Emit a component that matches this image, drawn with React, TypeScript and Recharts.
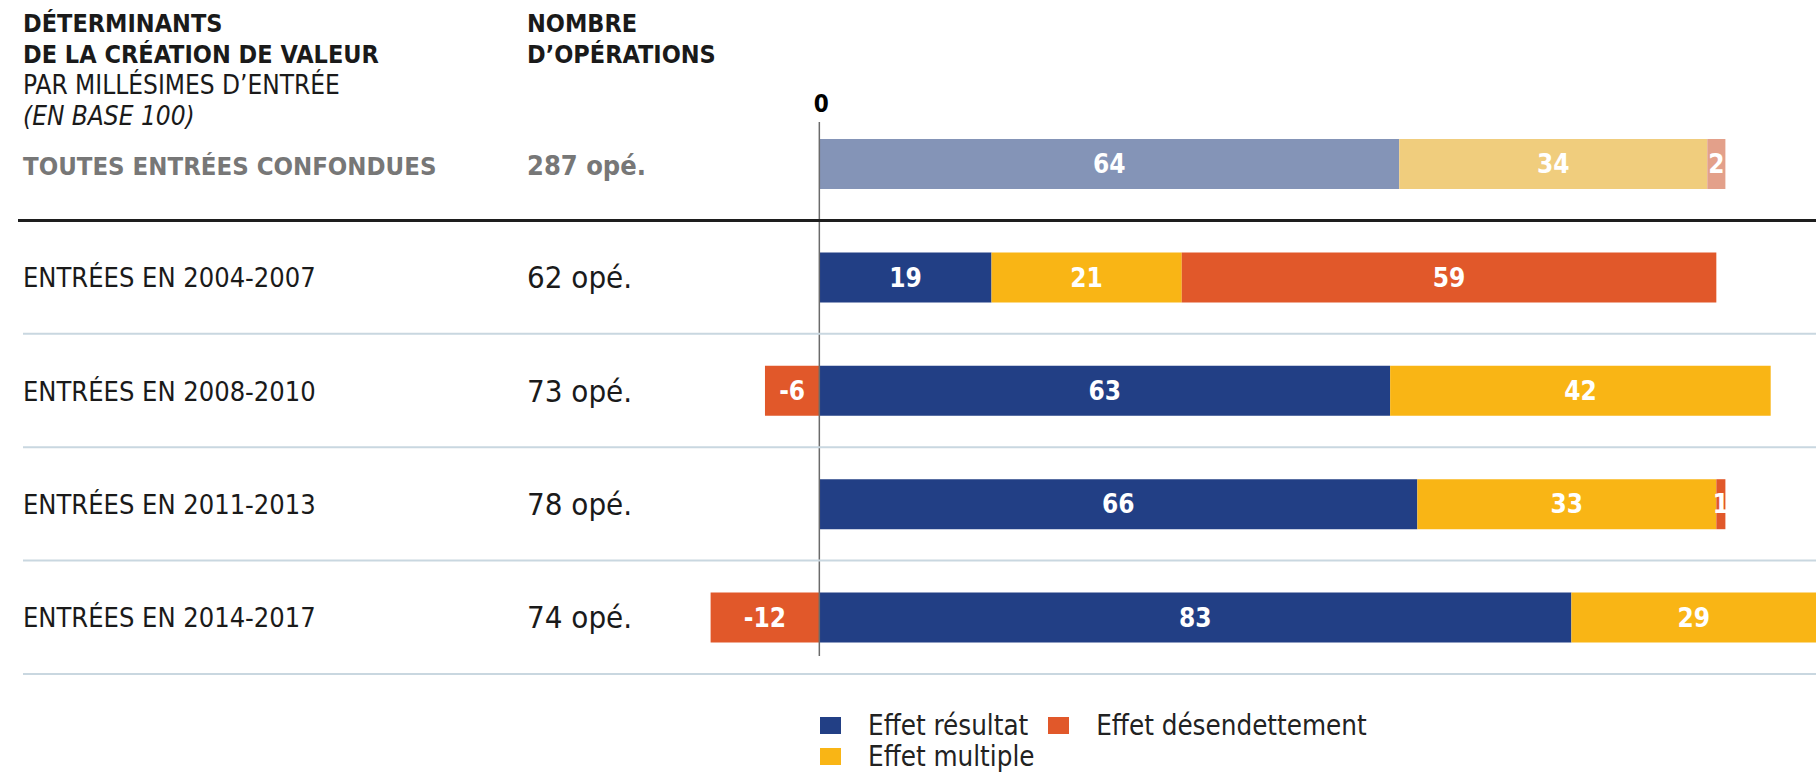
import React from "react";
import { Bar, BarChart, Cell, LabelList, Legend, ReferenceLine, XAxis, YAxis } from "recharts";

const categories = [
  "TOUTES ENTRÉES CONFONDUES",
  "ENTRÉES EN 2004-2007",
  "ENTRÉES EN 2008-2010",
  "ENTRÉES EN 2011-2013",
  "ENTRÉES EN 2014-2017",
];
const operations = ["287 opé.", "62 opé.", "73 opé.", "78 opé.", "74 opé."];
const effetResultat = [64, 19, 63, 66, 83];
const effetMultiple = [34, 21, 42, 33, 29];
const effetDesendettement = [2, 59, -6, 1, -12];
const xTicks = [0];

const data = categories.map((category, i) => ({
  category,
  resultat: effetResultat[i],
  multiple: effetMultiple[i],
  desendettement: effetDesendettement[i],
}));

const FONT = "'Liberation Sans Narrow', 'DejaVu Sans Condensed', sans-serif";
const W = 1816;
const H = 773;
const MARGIN = { top: 77, right: 0, bottom: 99, left: 21 };
const X_AXIS_H = 30;
const BAND = (H - MARGIN.top - MARGIN.bottom - X_AXIS_H) / categories.length;

const COLORS = {
  resultat: { main: "#223f85", light: "#8494b7" },
  multiple: { main: "#f9b515", light: "#f0cd7d" },
  desendettement: { main: "#e1582a", light: "#e3a08a" },
};

const SERIES = [
  { key: "resultat", name: "Effet résultat" },
  { key: "multiple", name: "Effet multiple" },
  { key: "desendettement", name: "Effet désendettement" },
] as const;
const LEGEND_ORDER = ["resultat", "desendettement", "multiple"];

function RowTick(props: any) {
  const { y, payload, index } = props;
  const first = index === 0;
  const lineY = y + BAND / 2;
  return (
    <g>
      <text
        x={23}
        y={y}
        dy={first ? 11 : 10}
        fontFamily={FONT}
        fontSize={first ? 25.5 : 27}
        fontWeight={first ? 700 : 400}
        fill={first ? "#777777" : "#1a1a1a"}
      >
        {payload.value}
      </text>
      <text
        x={527}
        y={y}
        dy={11}
        fontFamily={FONT}
        fontSize={first ? 27 : 31}
        fontWeight={first ? 700 : 400}
        fill={first ? "#777777" : "#1a1a1a"}
      >
        {operations[index]}
      </text>
      <line
        x1={first ? 18 : 23}
        x2={W}
        y1={lineY}
        y2={lineY}
        stroke={first ? "#1e1e1e" : "#c9d7e0"}
        strokeWidth={first ? 3 : 2}
      />
    </g>
  );
}

function ZeroTick(props: any) {
  const { x, y, payload } = props;
  return (
    <text x={x + 2} y={y} dy={5} textAnchor="middle" fontFamily={FONT} fontSize={24} fontWeight={700} fill="#000">
      {payload.value}
    </text>
  );
}

function ZeroLine(props: any) {
  const { x1, y1, x2, y2 } = props;
  return <line x1={x1} x2={x2} y1={y1 + 15} y2={y2 - 18} stroke="#6b6b6b" strokeWidth={1.5} />;
}

function LegendContent(props: any) {
  const items = LEGEND_ORDER.map((k) => props.payload?.find((p: any) => p.dataKey === k)).filter(Boolean);
  return (
    <div style={{ display: "flex", flexWrap: "wrap", width: 600, rowGap: 5 }}>
      {items.map((item: any) => (
        <div key={item.dataKey} style={{ display: "flex", alignItems: "center", marginRight: 20, height: 26 }}>
          <span style={{ display: "inline-block", width: 21, height: 17, background: COLORS[item.dataKey as keyof typeof COLORS].main, marginRight: 27 }} />
          <span style={{ fontFamily: FONT, fontSize: 27.5, color: "#222", lineHeight: "26px" }}>{item.value}</span>
        </div>
      ))}
    </div>
  );
}

const headerBold: React.CSSProperties = { fontFamily: FONT, fontWeight: 700, fontSize: 25, color: "#1a1a1a", lineHeight: "31px" };
const headerLight: React.CSSProperties = { fontFamily: FONT, fontWeight: 400, fontSize: 26, color: "#1a1a1a", lineHeight: "31px" };

export default function App() {
  return (
    <div style={{ position: "absolute", left: 0, top: 0, width: W, height: H, background: "#fff", overflow: "hidden" }}>
      <div style={{ position: "absolute", left: 23, top: 8 }}>
        <div style={headerBold}>DÉTERMINANTS</div>
        <div style={headerBold}>DE LA CRÉATION DE VALEUR</div>
        <div style={headerLight}>PAR MILLÉSIMES D’ENTRÉE</div>
        <div style={{ ...headerLight, fontStyle: "italic" }}>(EN BASE 100)</div>
      </div>
      <div style={{ position: "absolute", left: 527, top: 8 }}>
        <div style={headerBold}>NOMBRE</div>
        <div style={headerBold}>D’OPÉRATIONS</div>
      </div>
      <BarChart
        width={W}
        height={H}
        data={data}
        layout="vertical"
        stackOffset="sign"
        barSize={50}
        margin={MARGIN}
      >
        <XAxis
          type="number"
          orientation="top"
          domain={[-88, 110]}
          ticks={xTicks}
          height={X_AXIS_H}
          axisLine={false}
          tickLine={false}
          tickSize={0}
          tickMargin={0}
          tick={<ZeroTick />}
          allowDataOverflow
        />
        <YAxis
          type="category"
          dataKey="category"
          width={1}
          axisLine={false}
          tickLine={false}
          interval={0}
          tick={<RowTick />}
        />
        {SERIES.map((s) => (
          <Bar key={s.key} dataKey={s.key} name={s.name} stackId="a" fill={COLORS[s.key].main} isAnimationActive={false}>
            {data.map((_, i) => (
              <Cell key={i} fill={i === 0 ? COLORS[s.key].light : COLORS[s.key].main} />
            ))}
            <LabelList dataKey={s.key} position="center" fill="#fff" fontFamily={FONT} fontWeight={700} fontSize={26} />
          </Bar>
        ))}
        <ReferenceLine x={0} shape={<ZeroLine />} />
        <Legend
          layout="horizontal"
          verticalAlign="middle"
          align="center"
          content={<LegendContent />}
          wrapperStyle={{ position: "absolute", left: 820, top: 712, width: 600 }}
        />
      </BarChart>
    </div>
  );
}
